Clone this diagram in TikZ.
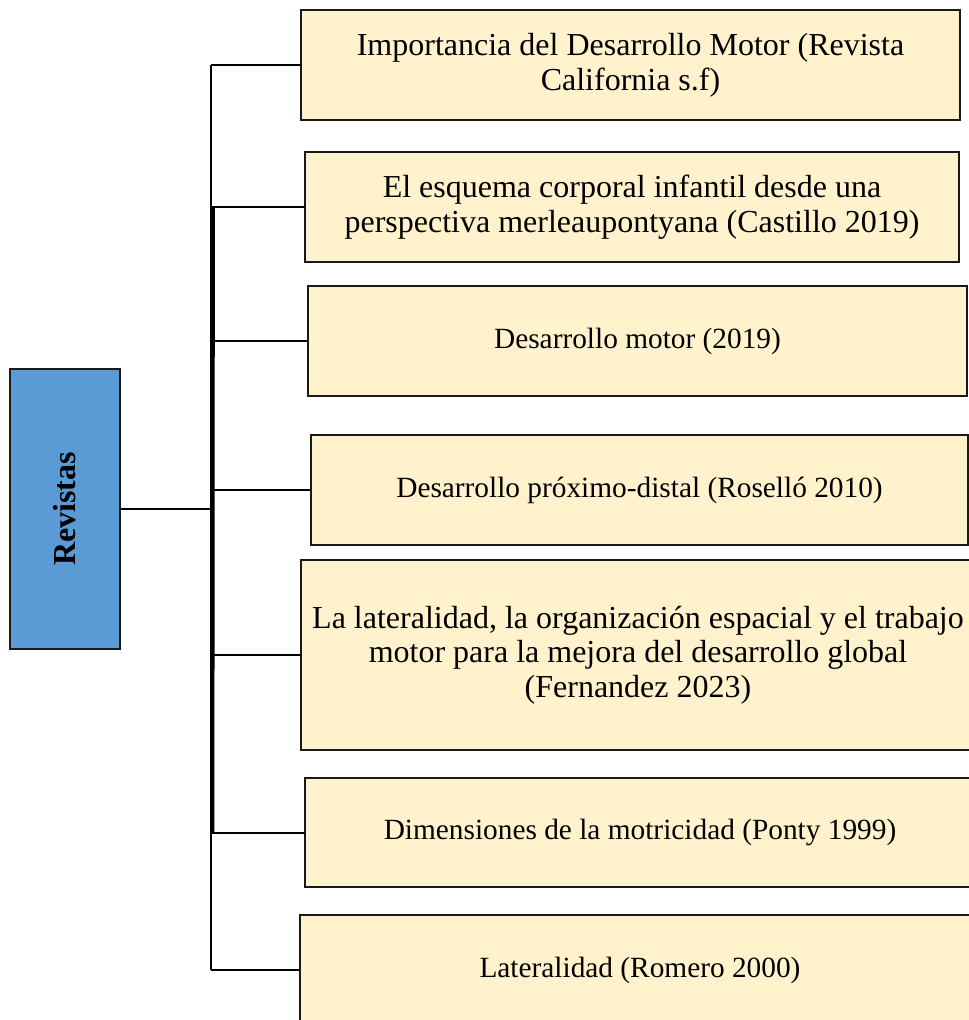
\documentclass[tikz,border=0pt]{standalone}
\usepackage{fontspec}
\setmainfont{Liberation Serif}
\usetikzlibrary{calc}

\definecolor{cream}{HTML}{FFF2CC}
\definecolor{revblue}{HTML}{5B9BD5}

\tikzset{
  refbox/.style={draw=black!90, fill=cream, line width=1.6pt, inner sep=0pt, outer sep=0pt,
    align=center, font=\fontsize{22}{26}\selectfont},
  bigtext/.style={font=\fontsize{24}{26}\selectfont},
  link/.style={line width=1.5pt, black}
}

\begin{document}
\begin{tikzpicture}[x=0.75pt, y=-0.75pt]
        % okvir slike (pikseli)
        \useasboundingbox (0,0) rectangle (969,1020);
        \def\trunkX{211} % x-pozicija glavne linije

        % Glavni pojam
        \node[draw=black!90, fill=revblue, line width=1.6pt, inner sep=0pt,
              minimum width=82.5pt, minimum height=210pt] (rev) at (65,509) {};
        \node[rotate=90, font=\fontsize{24}{26}\selectfont\bfseries] (revtxt) at (rev.center) {Revistas};

        % Reference
        \node[refbox, bigtext, minimum width=494.25pt, minimum height=82.5pt] (imp) at (630.5,65)
            {Importancia del Desarrollo Motor (Revista\\California s.f)};
        \node[refbox, bigtext, minimum width=490.5pt, minimum height=82.5pt] (esq) at (632,207)
            {El esquema corporal infantil desde una\\perspectiva merleaupontyana (Castillo 2019)};
        \node[refbox, minimum width=494.25pt, minimum height=82.5pt] (des) at (637.5,341)
            {Desarrollo motor (2019)};
        \node[refbox, minimum width=492.75pt, minimum height=82.5pt] (prox) at (639.5,490)
            {Desarrollo próximo-distal (Roselló 2010)};
        \node[refbox, bigtext, minimum width=505.5pt, minimum height=142.5pt] (lat) at (638,655)
            {La lateralidad, la organización espacial y el trabajo\\motor para la mejora del desarrollo global\\(Fernandez 2023)};
        \node[refbox, minimum width=502.5pt, minimum height=81.75pt] (dim) at (640,832.5)
            {Dimensiones de la motricidad (Ponty 1999)};
        \node[refbox, minimum width=510pt, minimum height=82.5pt] (rom) at (640,970)
            {Lateralidad (Romero 2000)};

        % Glavna vertikalna linija
        \coordinate (hub) at (\trunkX,509);
        \draw[link] (imp.west -| hub) -- (rom.west -| hub);
        \draw[line width=2.8pt] ($(esq.west -| hub)+(2,0)$) -- ($(dim.west -| hub)+(1.5,0)$);

        % Spojnice
        \draw[line width=2.2pt] (rev.east) -- (hub);
        \foreach \b in {imp, esq, des, prox, lat, dim, rom} {
            \draw[link] (\b.west -| hub) -- (\b.west);
        }
\end{tikzpicture}
\end{document}
